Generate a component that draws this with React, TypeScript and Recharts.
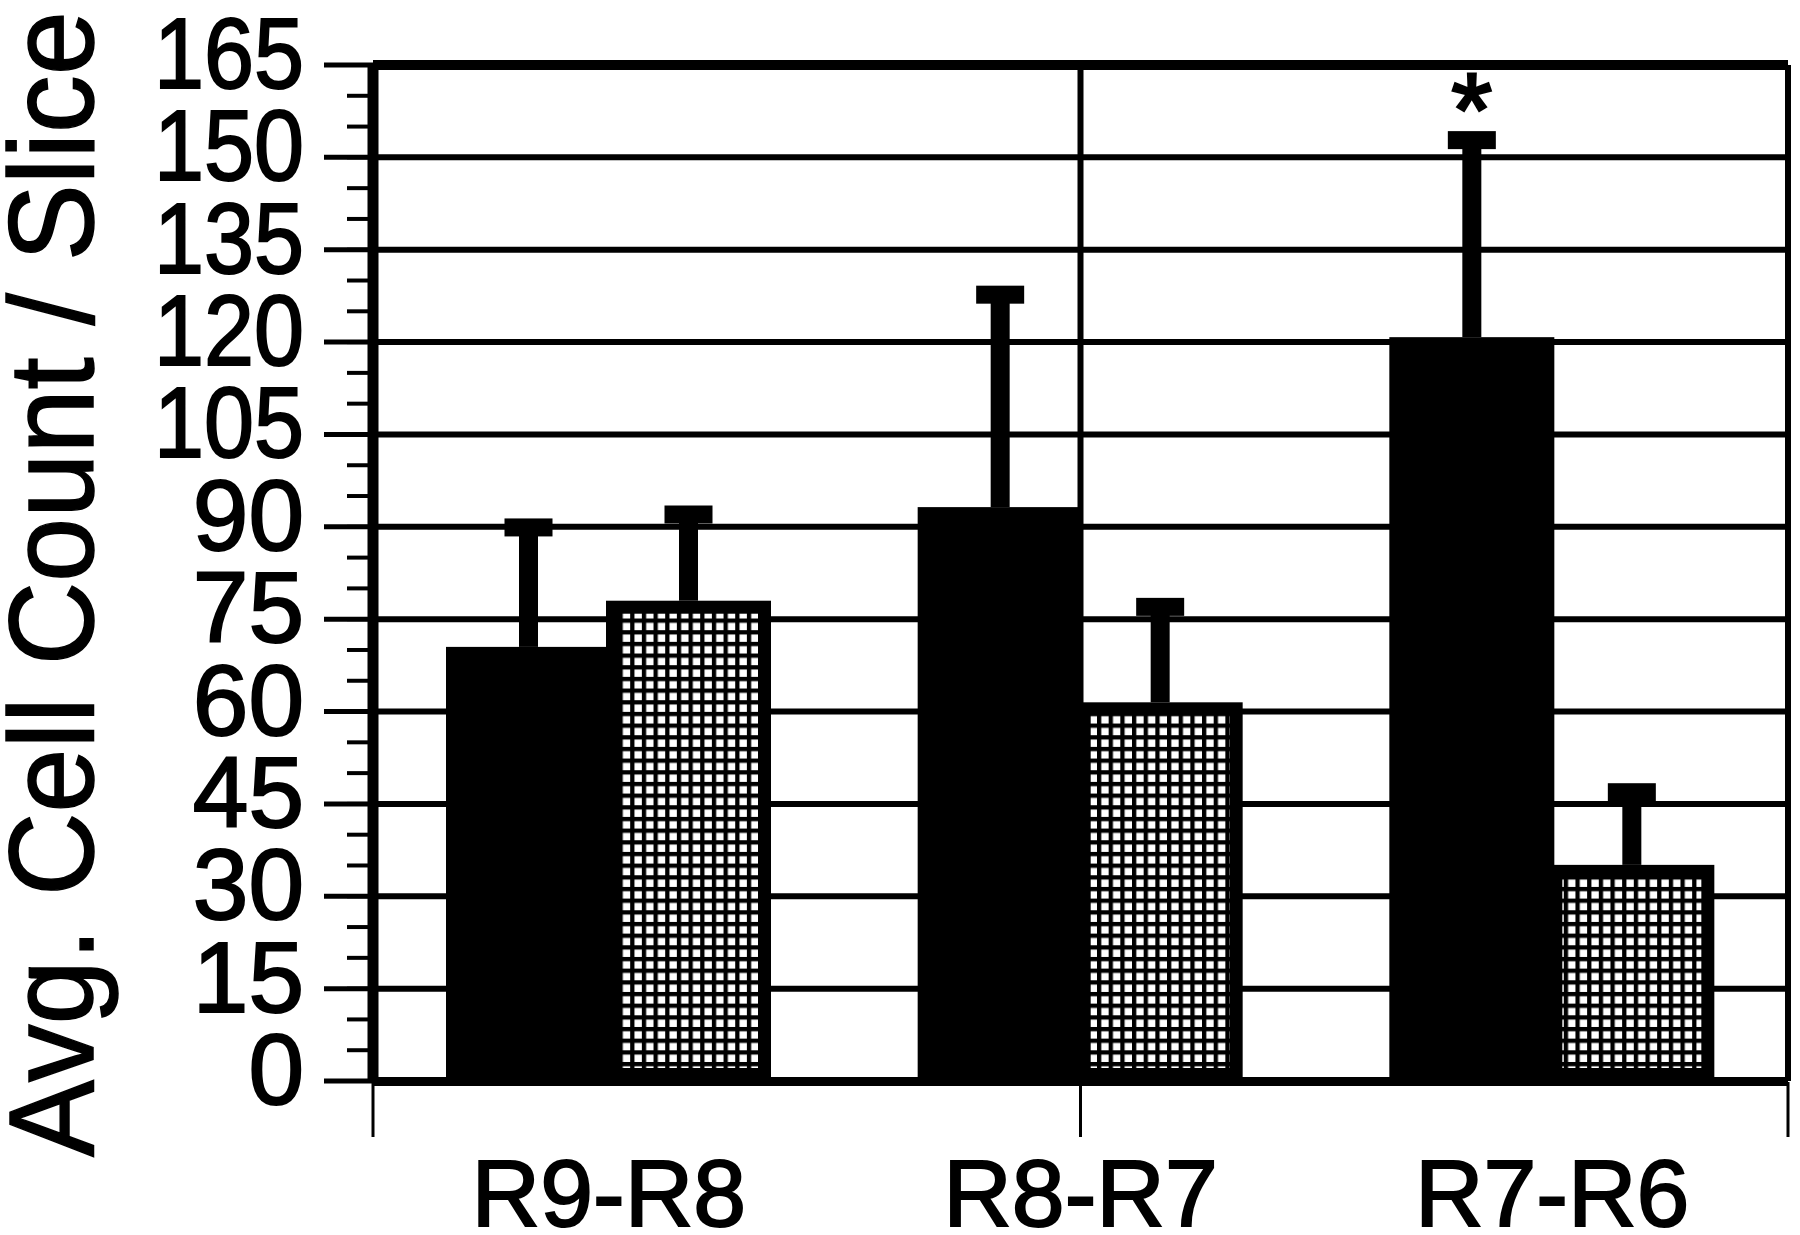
import React from 'react';
import { BarChart, Bar, XAxis, YAxis, CartesianGrid, ReferenceLine, Label } from 'recharts';

const categories = ['R9-R8', 'R8-R7', 'R7-R6'];
const blackValues = [70.5, 93.2, 120.8];
const blackErrors = [19.4, 34.5, 32.0];
const hatchedValues = [78.0, 61.5, 35.1];
const hatchedErrors = [14.0, 15.5, 11.8];
const significance = ['', '', '*'];

const yTicks = [0, 15, 30, 45, 60, 75, 90, 105, 120, 135, 150, 165];
const yMinorTicks = [0, 5, 10, 15, 20, 25, 30, 35, 40, 45, 50, 55, 60, 65, 70, 75, 80, 85, 90, 95, 100, 105, 110, 115, 120, 125, 130, 135, 140, 145, 150, 155, 160, 165];
const edgeTicks = [0, 1, 2, 3];
const yLabel = 'Avg. Cell Count / Slice';

const data = categories.map((c, i) => ({
  cat: c,
  black: blackValues[i],
  blackErr: blackErrors[i],
  hatched: hatchedValues[i],
  hatchedErr: hatchedErrors[i],
  sig: significance[i],
}));

const FONT = '"Liberation Sans", Arial, Helvetica, sans-serif';

function ErrorGlyph({ cx, top, bottom }: { cx: number; top: number; bottom: number }) {
  return (
    <g>
      <rect x={cx - 9.5} y={top} width={19} height={Math.max(0, bottom - top)} fill="#000" />
      <rect x={cx - 24} y={top - 9} width={48} height={18} fill="#000" />
    </g>
  );
}

function BlackShape(props: any) {
  const { x, y, width, height, payload } = props;
  const v = payload.black;
  const ppu = v ? height / v : 0;
  const cx = x + width / 2;
  const top = y - payload.blackErr * ppu;
  return (
    <g>
      <rect x={x} y={y} width={width} height={height} fill="#000" />
      <ErrorGlyph cx={cx} top={top} bottom={y} />
      {payload.sig ? (
        <text x={cx} y={top + 6} textAnchor="middle" fontSize={104} fontFamily={FONT} fill="#000" stroke="#000" strokeWidth={3}>
          {payload.sig}
        </text>
      ) : null}
    </g>
  );
}

function HatchedShape(props: any) {
  const { x, y, width, height, payload } = props;
  const v = payload.hatched;
  const ppu = v ? height / v : 0;
  const cx = x + width / 2;
  const top = y - payload.hatchedErr * ppu;
  const sw = 13;
  return (
    <g>
      <rect x={x + sw / 2} y={y + sw / 2} width={Math.max(0, width - sw)} height={Math.max(0, height - sw)} fill="url(#gridHatch)" stroke="#000" strokeWidth={sw} />
      <ErrorGlyph cx={cx} top={top} bottom={y} />
    </g>
  );
}

function NullTick() {
  return <g />;
}

function YTick(props: any) {
  const { x, y, payload } = props;
  const s = String(payload.value);
  const extra = s.length >= 3 ? { textLength: 150, lengthAdjust: 'spacingAndGlyphs' } : {};
  return (
    <text x={x} y={y - 12} textAnchor="end" dominantBaseline="central" fontSize={100} fontFamily={FONT} fill="#000" stroke="#000" strokeWidth={2} {...extra}>
      {s}
    </text>
  );
}

function XTick(props: any) {
  const { x, y, payload } = props;
  return (
    <text x={x} y={y} dy={0.71 * 95} textAnchor="middle" fontSize={95} fontFamily={FONT} fill="#000" stroke="#000" strokeWidth={2}>
      {payload.value}
    </text>
  );
}

function YAxisTitle(props: any) {
  const vb = props.viewBox || { y: 65, height: 1016 };
  const cy = vb.y + vb.height / 2 + 11;
  const bx = 93;
  return (
    <text x={bx} y={cy} transform={`rotate(-90, ${bx}, ${cy})`} textAnchor="middle" textLength={1146} lengthAdjust="spacingAndGlyphs" fontSize={121} fontFamily={FONT} fill="#000" stroke="#000" strokeWidth={1.5}>
      {yLabel}
    </text>
  );
}

export default function App() {
  return (
    <div style={{ position: 'absolute', left: 0, top: 0, width: 1800, height: 1235, background: '#fff' }}>
      <BarChart
        width={1800}
        height={1235}
        data={data}
        margin={{ top: 65, right: 12, left: 371, bottom: 152 }}
        barSize={165}
        barGap={-5}
      >
        <defs>
          <pattern id="gridHatch" patternUnits="userSpaceOnUse" width={11.67} height={11.67}>
            <rect x={0} y={0} width={11.67} height={11.67} fill="#fff" />
            <rect x={0} y={0} width={4.3} height={11.67} fill="#000" />
            <rect x={0} y={0} width={11.67} height={4.3} fill="#000" />
          </pattern>
        </defs>
        <XAxis
          xAxisId="edge"
          type="number"
          domain={[0, 3]}
          ticks={edgeTicks}
          allowDataOverflow
          interval={0}
          height={1}
          tick={<NullTick />}
          tickSize={55}
          tickLine={{ stroke: '#000', strokeWidth: 3 }}
          axisLine={{ stroke: '#000', strokeWidth: 8 }}
        />
        <XAxis
          xAxisId="cat"
          dataKey="cat"
          height={1}
          axisLine={false}
          tickLine={false}
          tickSize={0}
          tickMargin={78}
          tick={<XTick />}
          interval={0}
        />
        <YAxis
          yAxisId="main"
          type="number"
          domain={[0, 165]}
          ticks={yTicks}
          allowDataOverflow
          width={1}
          interval={0}
          tickSize={49}
          tickMargin={20}
          tick={<YTick />}
          tickLine={{ stroke: '#000', strokeWidth: 5 }}
          axisLine={{ stroke: '#000', strokeWidth: 11 }}
        >
          <Label content={<YAxisTitle />} />
        </YAxis>
        <YAxis
          yAxisId="minor"
          type="number"
          domain={[0, 165]}
          ticks={yMinorTicks}
          allowDataOverflow
          width={1}
          interval={0}
          tickSize={25}
          tick={<NullTick />}
          tickLine={{ stroke: '#000', strokeWidth: 4 }}
          axisLine={false}
        />
        <CartesianGrid xAxisId="edge" yAxisId="main" stroke="#000" strokeWidth={6} />
        <ReferenceLine xAxisId="edge" yAxisId="main" y={165} stroke="#000" strokeWidth={10} />
        <ReferenceLine xAxisId="edge" yAxisId="main" x={3} stroke="#000" strokeWidth={10} />
        <ReferenceLine xAxisId="edge" yAxisId="minor" y={0} stroke="#000" strokeWidth={8} />
        <Bar xAxisId="cat" yAxisId="main" dataKey="black" fill="#000" shape={<BlackShape />} isAnimationActive={false} />
        <Bar xAxisId="cat" yAxisId="main" dataKey="hatched" fill="#fff" shape={<HatchedShape />} isAnimationActive={false} />
      </BarChart>
    </div>
  );
}
